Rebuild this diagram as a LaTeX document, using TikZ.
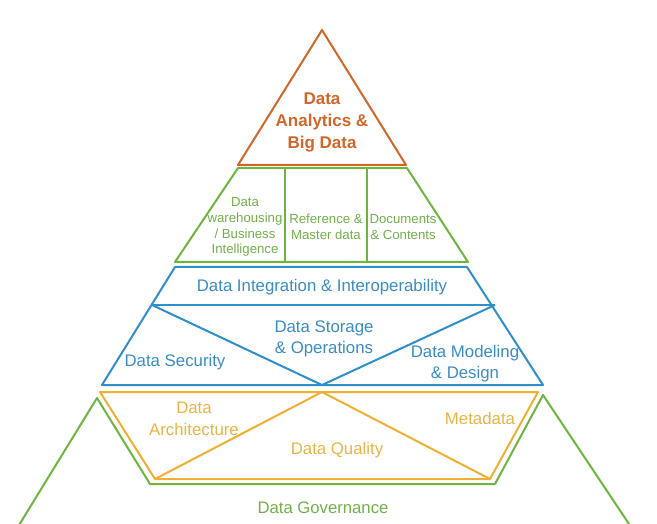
\documentclass[tikz,border=0pt]{standalone}
\usepackage{fontspec}
\setmainfont{Liberation Sans}
\definecolor{dmorange}{HTML}{D0672A}
\definecolor{dmgreen}{HTML}{6EB43F}
\definecolor{dmgreentext}{HTML}{72B04A}
\definecolor{dmblue}{HTML}{2F8FCB}
\definecolor{dmbluetext}{HTML}{3A8CC4}
\definecolor{dmgold}{HTML}{EFB031}
\definecolor{dmgoldtext}{HTML}{E8B446}
\tikzset{
  edge/.style={line width=2pt, line join=round},
  lbl/.style={align=center, inner sep=0pt},
  orangelbl/.style={lbl, text=dmorange, font=\bfseries\fontsize{17}{22}\selectfont},
  greenlbl/.style={lbl, text=dmgreentext, font=\fontsize{13.2}{15.8}\selectfont},
  bluelbl/.style={lbl, text=dmbluetext, font=\fontsize{16.8}{21}\selectfont},
  goldlbl/.style={lbl, text=dmgoldtext, font=\fontsize{16.8}{22}\selectfont},
  govlbl/.style={lbl, text=dmgreentext, font=\fontsize{16.7}{20}\selectfont},
}
\begin{document}
\begin{tikzpicture}[x=1pt,y=-1pt]
\useasboundingbox (0,0) rectangle (657,524);
\clip (0,0) rectangle (657,524);
% vertices
\coordinate (oA) at (322,30);
\coordinate (oL) at (238,165);
\coordinate (oR) at (406,165);
\coordinate (gTL) at (238,168);
\coordinate (gTR) at (407,168);
\coordinate (gBL) at (175,262);
\coordinate (gBR) at (468,262);
\coordinate (gD1t) at (285,168);
\coordinate (gD1b) at (285,262);
\coordinate (gD2t) at (367,168);
\coordinate (gD2b) at (367,262);
\coordinate (bTL) at (175,267);
\coordinate (bTR) at (467,267);
\coordinate (bML) at (152,305);
\coordinate (bMR) at (495,305);
\coordinate (bBL) at (102,385);
\coordinate (bBR) at (543,385);
\coordinate (bV) at (322,385);
\coordinate (yTL) at (100,392);
\coordinate (yTR) at (538,392);
\coordinate (yBL) at (155,479);
\coordinate (yBR) at (490,479);
\coordinate (yA) at (322,392);
\coordinate (vL) at (97,398);
\coordinate (vR) at (543,395);
\coordinate (vBL) at (150,484);
\coordinate (vBR) at (495,484);
\coordinate (vFL) at (16,530);
\coordinate (vFR) at (633,530);
% outer governance
\draw[edge, dmgreen] (vFL) -- (vL) -- (vBL) -- (vBR) -- (vR) -- (vFR);
% yellow
\draw[edge, dmgold] (yTL) -- (yTR) -- (yBR) -- (yBL) -- cycle;
\draw[edge, dmgold] (yBL) -- (yA) -- (yBR);
% blue
\draw[edge, dmblue] (bTL) -- (bTR) -- (bBR) -- (bBL) -- cycle;
\draw[edge, dmblue] (bML) -- (bMR);
\draw[edge, dmblue] (bML) -- (bV) -- (bMR);
% green
\draw[edge, dmgreen] (gTL) -- (gTR) -- (gBR) -- (gBL) -- cycle;
\draw[edge, dmgreen] (gD1t) -- (gD1b);
\draw[edge, dmgreen] (gD2t) -- (gD2b);
% orange
\draw[edge, dmorange] (oA) -- (oR) -- (oL) -- cycle;
% labels
\node[orangelbl] (analytics) at (322,122) {Data\\Analytics \&\\Big Data};
\node[greenlbl] (dw) at (245,227) {Data\\warehousing\\/ Business\\Intelligence};
\node[greenlbl] (ref) at (326,227) {Reference \&\\Master data};
\node[greenlbl] (docs) at (403,227) {Documents\\\& Contents};
\node[bluelbl] (integ) at (322,287) {Data Integration \& Interoperability};
\node[bluelbl] (storage) at (324,339) {Data Storage\\\& Operations};
\node[bluelbl] (security) at (175,362) {Data Security};
\node[bluelbl] (modeling) at (465,364) {Data Modeling\\\& Design};
\node[goldlbl] (arch) at (194,419) {Data\\Architecture};
\node[goldlbl] (meta) at (480,418) {Metadata};
\node[goldlbl] (quality) at (337,450) {Data Quality};
\node[govlbl] (gov) at (323,508) {Data Governance};
\end{tikzpicture}
\end{document}
